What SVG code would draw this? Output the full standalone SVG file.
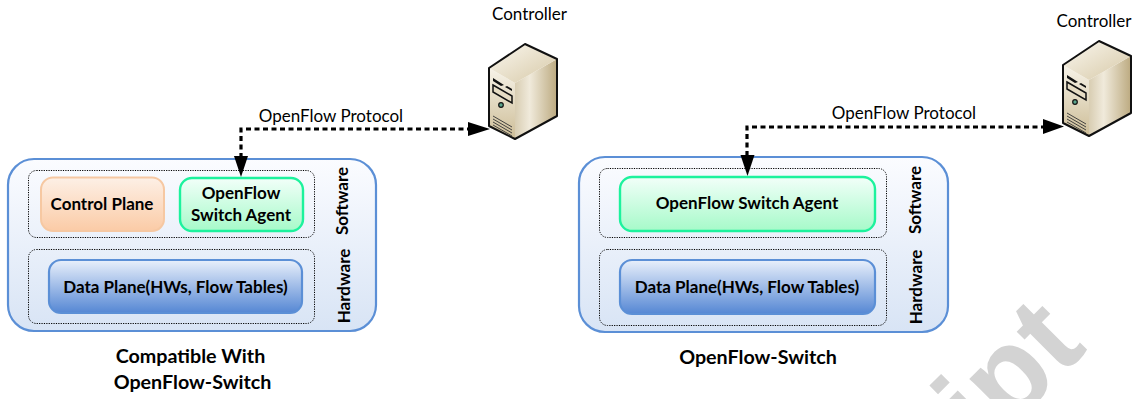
<svg xmlns="http://www.w3.org/2000/svg" width="1133" height="399" viewBox="0 0 1133 399">
<style>
text{font-family:"Lato","Noto Sans",sans-serif;fill:#000;text-anchor:middle}
.b{font-weight:700;font-size:17px}
.t{font-weight:700;font-size:19.700px}
.r{font-size:17px}
.outer{fill:url(#gOuter);stroke:#5b8fd6;stroke-width:2.2}
.dot{fill:none;stroke:#000;stroke-width:1;stroke-dasharray:1.2 1.2}
.org{fill:url(#gOrg);stroke:#f6c8a2;stroke-width:2}
.grn{fill:url(#gGrn);stroke:#1df29d;stroke-width:2.4}
.blu{fill:url(#gBlu);stroke:#5b8fd6;stroke-width:2.2}
.conn{fill:none;stroke:#000;stroke-width:3.200;stroke-dasharray:5 3.500}
.ah{fill:#000}
</style>
<defs>
<linearGradient id="gOuter" x1="0" y1="0" x2="0" y2="1"><stop offset="0" stop-color="#fbfcff"/><stop offset="1" stop-color="#d8e4f5"/></linearGradient>
<linearGradient id="gOrg" x1="0" y1="0" x2="0" y2="1"><stop offset="0" stop-color="#fdf0e6"/><stop offset="1" stop-color="#fbcba6"/></linearGradient>
<linearGradient id="gGrn" x1="0" y1="0" x2="0" y2="1"><stop offset="0" stop-color="#f2fff9"/><stop offset="1" stop-color="#a6fac9"/></linearGradient>
<linearGradient id="gBlu" x1="0" y1="0" x2="0" y2="1"><stop offset="0" stop-color="#e9f0fb"/><stop offset="1" stop-color="#5587d4"/></linearGradient>
<linearGradient id="gSide" x1="0" y1="0" x2="1" y2="0"><stop offset="0" stop-color="#d8cdb2"/><stop offset=".35" stop-color="#f0eadb"/><stop offset="1" stop-color="#bcaa80"/></linearGradient>
<linearGradient id="gFront" x1="0" y1="0" x2="0" y2="1"><stop offset="0" stop-color="#f7f3e8"/><stop offset="1" stop-color="#cdbd97"/></linearGradient>
<linearGradient id="gRoof" x1="0" y1="0" x2="1" y2="1"><stop offset="0" stop-color="#fbf8f0"/><stop offset="1" stop-color="#d6c8a6"/></linearGradient>
<g id="server">
<path d="M26 39 L68 15 L68 72 L26 95Z" fill="url(#gSide)"/>
<path d="M0 24 L26 39 L26 95 L0 82Z" fill="url(#gFront)"/>
<path d="M0 24 L36 0 L68 15 L26 39Z" fill="url(#gRoof)"/>
<path d="M0 24 L36 0 L68 15 L68 72 L26 95 L0 82Z" fill="none" stroke="#111" stroke-width="2" stroke-linejoin="round"/>
<path d="M4 34 L15 41 L12 42 L4 37Z M18 42 L23 45 V47 L16 43Z" fill="#111"/>
<path d="M4 41 L23 52 V59 L4 48Z" fill="#e6dcc4" stroke="#111" stroke-width="1.5"/>
<circle cx="12" cy="61" r="2.300" fill="#5aa58c" stroke="#111" stroke-width="1.200"/>
<path d="M4 72 L23 83 M4 75 L23 86 M4 78 L23 89 M4 81 L23 92" stroke="#333" stroke-width=".9" fill="none"/>
</g>
</defs>

<text id="watermark" transform="translate(985 453) rotate(-45)" style="font-family:'Liberation Sans',sans-serif;font-weight:700;font-size:120px;fill:#d3d3d3;text-anchor:start">ipt</text>

<g id="panel-left">
<rect class="outer" x="8" y="159" width="368" height="172" rx="26"/>
<rect class="dot" x="28.500" y="170.500" width="286" height="67" rx="8"/>
<rect class="dot" x="28.500" y="249.500" width="286" height="74" rx="8"/>
</g>
<g id="control-plane"><rect class="org" x="41" y="177.500" width="123" height="53.500" rx="12"/><text class="b" x="102" y="210">Control Plane</text></g>
<g id="agent-left"><rect class="grn" x="180" y="178" width="123" height="53" rx="12"/><text class="b" x="241" y="199">OpenFlow</text><text class="b" x="241" y="221">Switch Agent</text></g>
<g id="data-left"><rect class="blu" x="49" y="260" width="253" height="53" rx="12"/><text class="b" x="175.500" y="292.500">Data Plane(HWs, Flow Tables)</text></g>
<text class="b" transform="translate(348 201) rotate(-90)">Software</text>
<text class="b" transform="translate(350 286) rotate(-90)">Hardware</text>
<text class="t" x="190.500" y="363">Compatible With</text>
<text class="t" x="192.500" y="389">OpenFlow-Switch</text>

<g id="panel-right">
<rect class="outer" x="579" y="157" width="369" height="175" rx="26"/>
<rect class="dot" x="599.500" y="168.500" width="287" height="69" rx="8"/>
<rect class="dot" x="599.500" y="249.500" width="287" height="76" rx="8"/>
</g>
<g id="agent-right"><rect class="grn" x="620" y="177" width="255" height="54" rx="12"/><text class="b" x="747" y="209">OpenFlow Switch Agent</text></g>
<g id="data-right"><rect class="blu" x="620" y="260" width="255" height="54" rx="12"/><text class="b" x="747" y="293">Data Plane(HWs, Flow Tables)</text></g>
<text class="b" transform="translate(921 200) rotate(-90)">Software</text>
<text class="b" transform="translate(922 287) rotate(-90)">Hardware</text>
<text class="t" x="758" y="364">OpenFlow-Switch</text>

<g id="controller-left"><use href="#server" x="489" y="44"/><text class="r" x="529.500" y="20">Controller</text></g>
<g id="controller-right"><use href="#server" x="1063" y="41"/><text class="r" x="1094" y="27">Controller</text></g>
<text class="r" x="331" y="122">OpenFlow Protocol</text>
<text class="r" x="904" y="119">OpenFlow Protocol</text>

<g id="connectors">
<path class="conn" d="M241 158 V129 H470"/>
<path class="ah" d="M234 156 H248 L241 177Z"/>
<path class="ah" d="M468 122 L490 129 L468 136Z"/>
<path class="conn" d="M747 156 V127 H1045"/>
<path class="ah" d="M740.500 155 H754.500 L747.500 176Z"/>
<path class="ah" d="M1043 119 L1064 126.500 L1043 134Z"/>
</g>
</svg>
